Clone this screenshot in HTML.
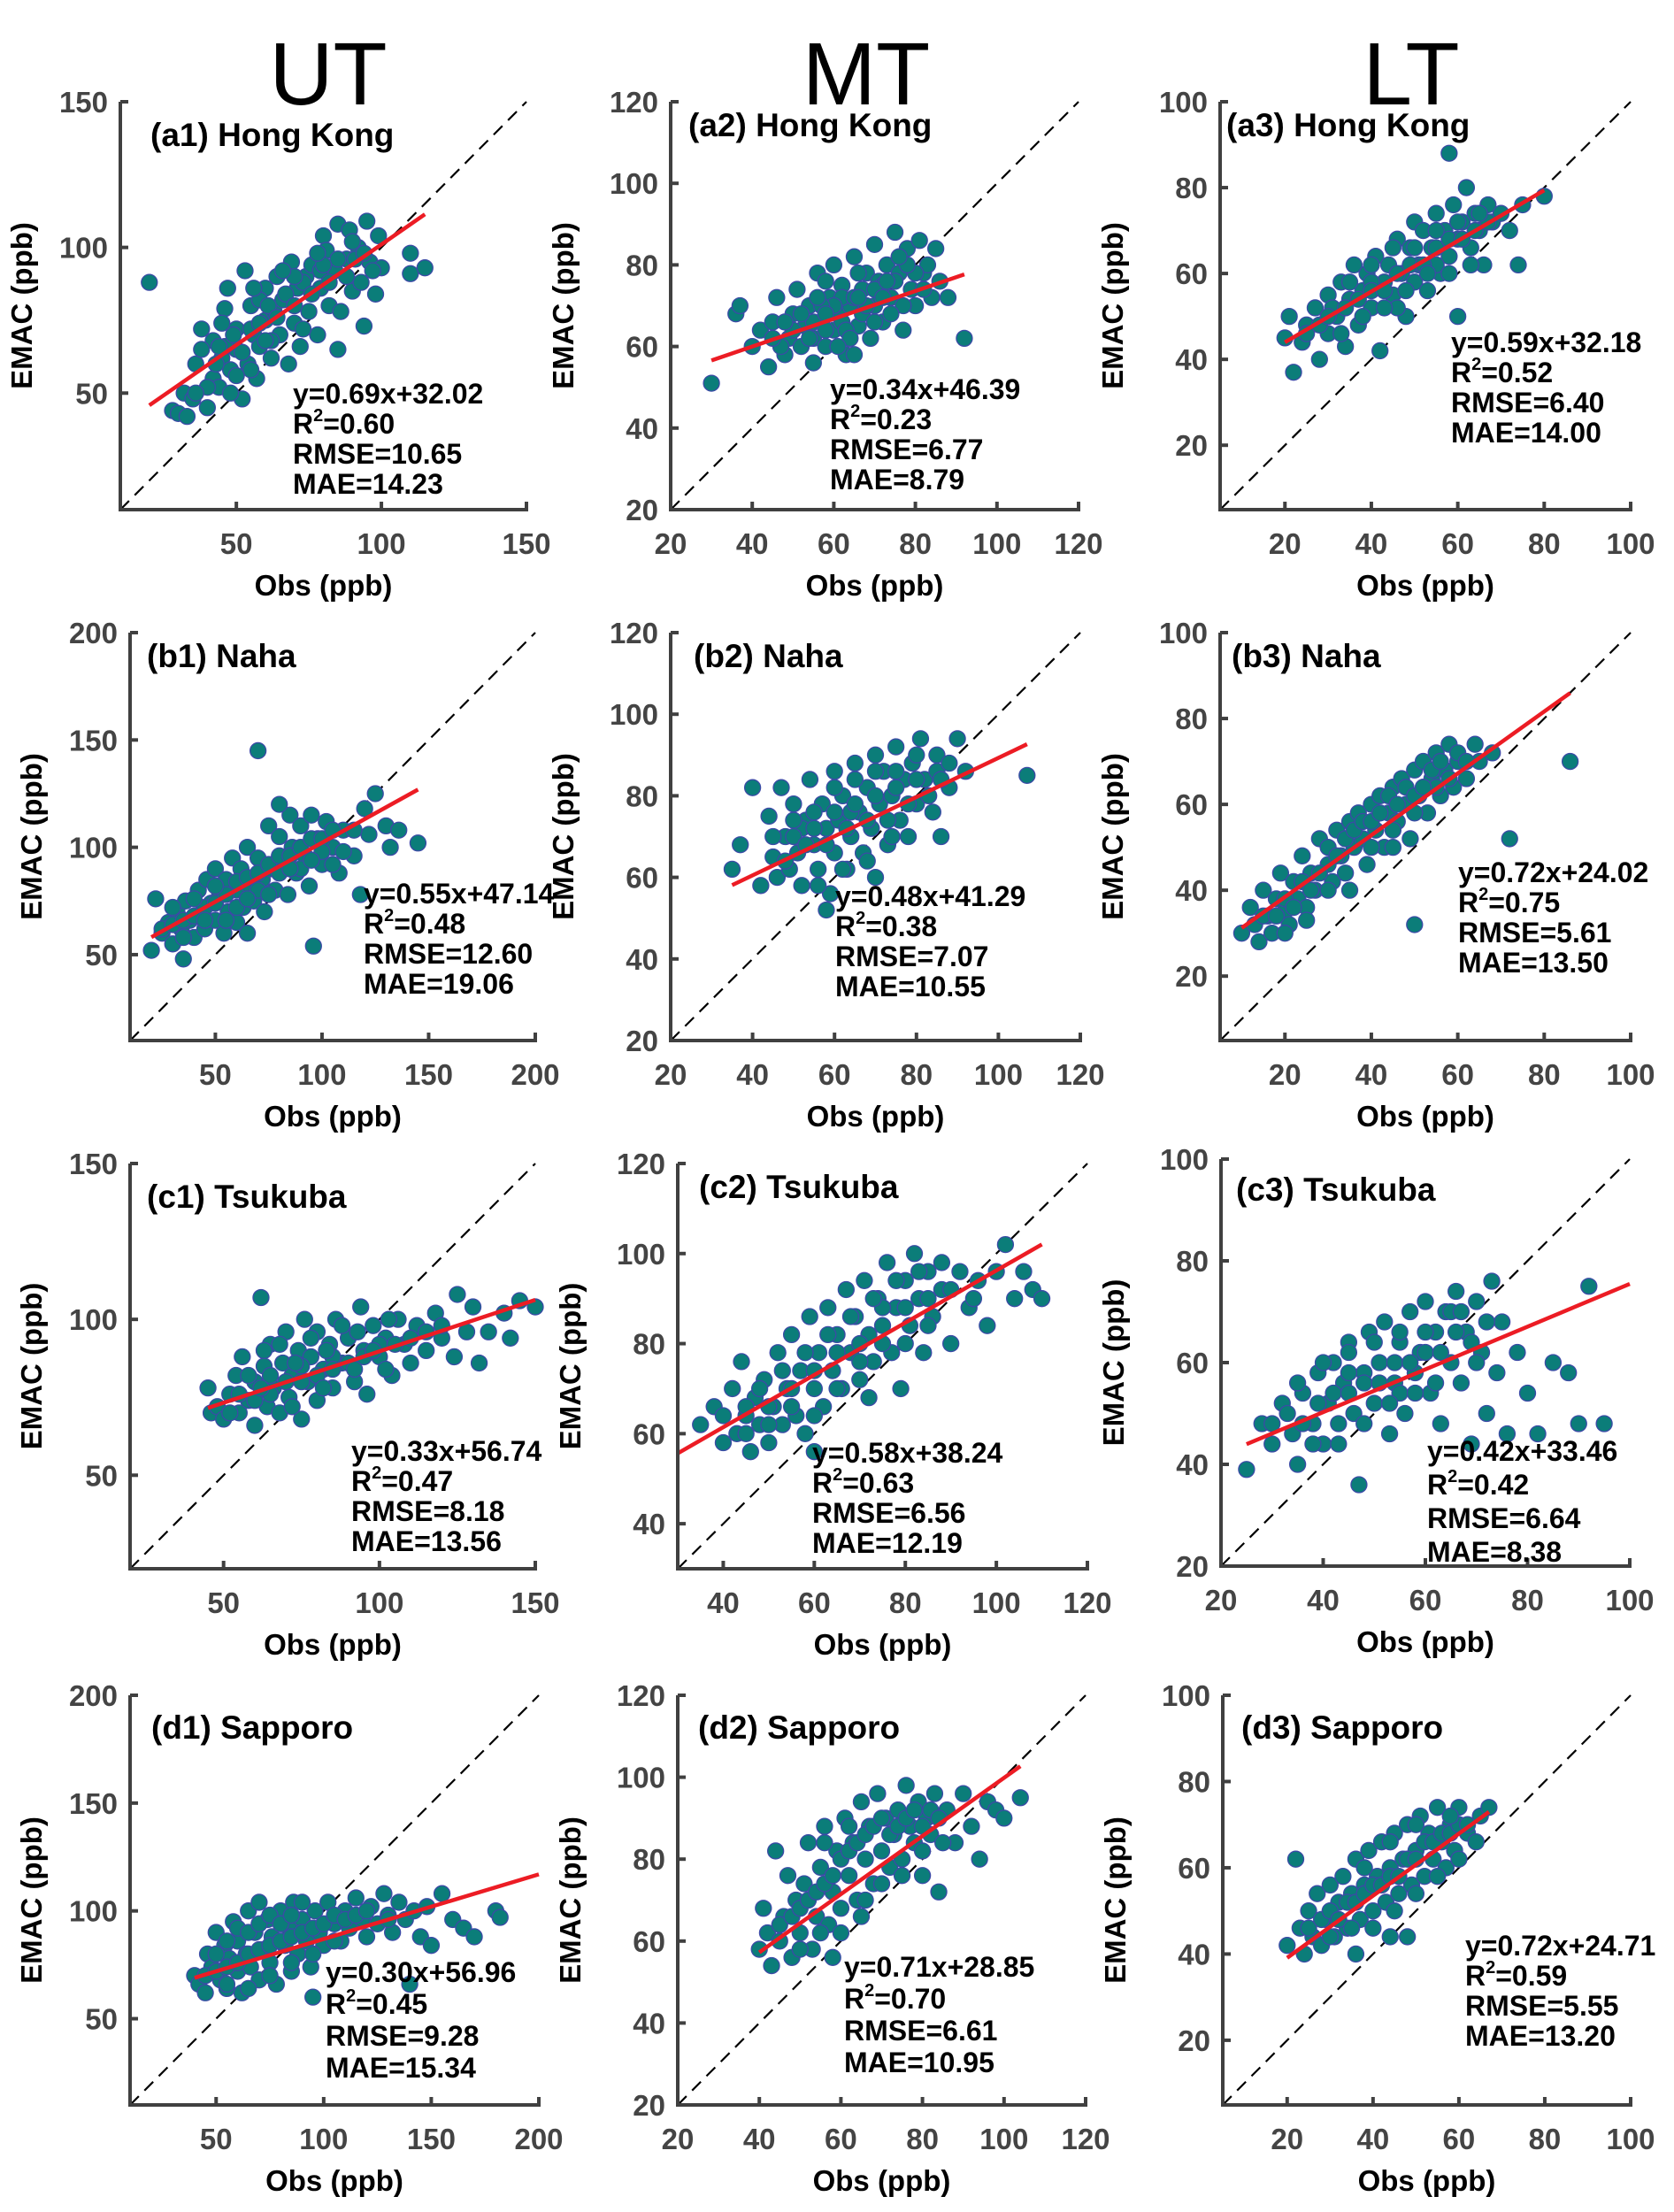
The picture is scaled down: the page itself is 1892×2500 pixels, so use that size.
<!DOCTYPE html>
<html><head><meta charset="utf-8"><style>
html,body{margin:0;padding:0;background:#fff}
svg{display:block}
text{font-family:"Liberation Sans",Arial,sans-serif}
</style></head><body>
<svg id="fig" width="1892" height="2500" viewBox="0 0 1892 2500" xmlns="http://www.w3.org/2000/svg">
<text x="371" y="118" font-size="100" text-anchor="middle">UT</text>
<text x="979" y="118" font-size="100" text-anchor="middle">MT</text>
<text x="1595" y="118" font-size="100" text-anchor="middle">LT</text>
</svg>
<script>
// ---- data ----
const ptsA1=[[20,88],[28,44],[30,43],[32,50],[33,42],[35,48],[36,60],[38,72],[40,45],[42,55],[42,68],[44,52],[45,62],[46,79],[47,86],[48,58],[50,65],[50,72],[52,48],[53,92],[54,60],[55,80],[56,70],[57,55],[58,66],[60,75],[60,86],[62,62],[63,78],[64,90],[65,70],[66,82],[68,60],[69,95],[70,74],[71,86],[72,66],[74,90],[75,78],[76,94],[78,70],[79,86],[80,104],[81,99],[82,80],[84,92],[85,65],[85,108],[86,78],[88,96],[89,106],[90,85],[92,100],[93,88],[94,73],[95,109],[96,95],[98,84],[99,104],[100,93],[110,91],[110,98],[115,93],[45,74],[38,65],[55,58],[48,50],[62,68],[73,72],[58,82],
[40,52],[43,60],[46,66],[49,70],[52,64],[55,72],[58,74],[61,80],[64,76],[67,84],[70,80],[73,88],[76,84],[79,92],[82,88],[85,96],[88,90],[91,96],[94,98],[97,92],[36,50],[50,56],[60,68],[70,90],[80,94],[90,102],[44,66],[56,86],[66,92],[78,98]];
const ptsA2=[[30,51],[36,68],[37,70],[40,60],[42,64],[44,55],[45,66],[46,72],[48,58],[49,62],[50,68],[51,74],[52,60],[53,65],[54,70],[55,62],[56,78],[57,66],[58,60],[59,72],[60,64],[60,80],[61,68],[62,75],[63,58],[64,70],[65,82],[66,65],[67,74],[68,78],[69,62],[70,85],[70,70],[71,76],[72,66],[73,80],[74,72],[75,88],[76,78],[77,64],[78,84],[79,74],[80,70],[81,86],[82,78],[83,80],[84,72],[85,84],[86,76],[88,72],[92,62],[65,58],[55,56],[47,60],[58,76],[62,72],[66,78],[72,75],
[45,62],[50,64],[55,66],[60,70],[65,72],[70,74],[75,76],[80,78],[48,66],[52,68],[57,70],[62,66],[67,68],[72,72],[77,70],[82,74],[54,62],[58,64],[63,64],[68,70],[73,76],[78,80],[58,68],[64,62],[70,66],[76,82],[56,72],[61,60],[66,72],[74,68]];
const ptsA3=[[20,45],[21,50],[22,37],[24,44],[25,48],[27,52],[28,40],[30,55],[30,46],[32,50],[33,58],[34,43],[35,54],[36,62],[37,48],[38,56],[39,60],[40,52],[41,64],[42,42],[43,58],[44,62],[45,55],[46,68],[47,60],[48,50],[49,66],[50,58],[50,72],[51,62],[52,70],[53,56],[54,66],[55,74],[56,60],[57,70],[58,88],[58,64],[59,76],[60,68],[60,50],[61,72],[62,80],[63,66],[64,74],[65,70],[66,62],[67,76],[68,72],[70,74],[72,70],[74,62],[75,76],[80,78],[46,52],[40,58],[55,62],
[25,46],[28,48],[31,52],[34,52],[37,54],[40,56],[43,56],[46,60],[49,62],[52,62],[55,66],[58,68],[61,68],[64,70],[67,72],[30,50],[35,58],[40,62],[45,66],[50,66],[55,70],[60,72],[65,74],[33,46],[38,50],[43,52],[48,56],[53,60],[58,60],[63,62]];
const ptsB1=[[20,52],[22,76],[25,60],[28,65],[30,55],[32,70],[34,62],[35,48],[36,75],[38,66],[40,58],[42,80],[44,70],[45,62],[46,85],[48,74],[50,66],[50,90],[52,78],[54,60],[55,85],[56,70],[58,95],[60,80],[60,65],[62,90],[63,72],[65,100],[66,82],[68,75],[70,145],[70,95],[72,85],[73,70],[75,110],[76,90],[78,80],[80,105],[82,92],[84,78],[85,115],[86,100],[88,88],[90,110],[92,96],[94,82],[95,115],[96,54],[98,104],[100,92],[102,112],[105,100],[108,88],[110,108],[115,96],[118,78],[120,118],[122,106],[125,125],[130,110],[132,100],[136,108],[145,102],[80,120],[65,60],
[25,62],[30,64],[35,66],[40,68],[45,72],[50,74],[55,78],[60,84],[65,86],[70,88],[75,92],[80,96],[85,96],[90,100],[95,104],[100,104],[105,108],[110,98],[30,72],[40,76],[50,82],[60,72],[70,80],[80,88],[90,90],[100,98],[35,58],[45,66],[55,66],[65,76],[75,78],[85,90],[95,94],[105,92],[115,108]];
const ptsB2=[[35,62],[37,68],[40,82],[42,58],[44,75],[45,65],[46,60],[47,82],[48,70],[49,62],[50,78],[51,66],[52,58],[53,74],[54,84],[55,68],[56,62],[57,78],[58,72],[59,56],[60,66],[60,86],[61,74],[62,80],[63,62],[64,70],[65,88],[66,76],[67,66],[68,82],[69,72],[70,90],[70,60],[71,78],[72,86],[73,68],[74,80],[75,92],[76,74],[77,84],[78,70],[79,88],[80,78],[81,94],[82,84],[84,76],[85,90],[86,70],[88,82],[90,94],[92,86],[107,85],[58,52],[52,72],[64,76],
[45,70],[50,70],[55,72],[60,76],[65,78],[70,80],[75,82],[80,84],[85,86],[48,64],[53,68],[58,68],[63,72],[68,74],[73,74],[78,78],[83,80],[88,88],[50,74],[55,76],[60,82],[65,84],[70,86],[75,86],[80,90],[56,58],[62,62],[68,64],[74,70],[86,84]];
const ptsB3=[[10,30],[12,36],[13,32],[14,28],[15,40],[16,34],[17,30],[18,38],[19,44],[20,35],[21,32],[22,42],[23,38],[24,48],[25,36],[26,44],[27,40],[28,52],[30,46],[31,42],[32,54],[33,48],[34,44],[35,56],[36,50],[37,58],[38,52],[39,46],[40,60],[41,54],[42,62],[43,50],[44,58],[45,64],[46,56],[47,66],[48,60],[49,52],[50,68],[50,32],[51,62],[52,70],[53,58],[54,66],[55,72],[56,62],[57,68],[58,74],[59,64],[60,70],[62,66],[64,74],[65,70],[68,72],[72,52],[86,70],[35,40],[45,50],[55,64],
[15,34],[18,34],[20,38],[22,36],[24,42],[26,40],[28,44],[30,50],[32,48],[34,52],[36,54],[38,56],[40,56],[42,58],[44,62],[46,60],[48,64],[50,62],[52,64],[54,68],[56,70],[58,66],[60,72],[62,70],[30,40],[40,50],[50,58],[20,30],[25,33],[45,54]];
const ptsC1=[[45,78],[46,70],[48,72],[50,68],[52,76],[54,82],[55,70],[56,88],[58,74],[60,80],[60,66],[62,107],[63,85],[64,72],[65,92],[66,78],[68,70],[69,86],[70,96],[71,75],[72,82],[74,90],[75,68],[76,100],[77,80],[78,88],[80,74],[80,96],[82,84],[84,92],[85,78],[86,100],[88,86],[90,94],[92,80],[94,104],[95,90],[96,76],[98,98],[100,88],[102,94],[104,82],[106,100],[108,92],[110,86],[112,98],[115,90],[118,102],[120,94],[124,88],[125,108],[128,96],[130,104],[132,86],[135,96],[140,102],[142,94],[145,106],[150,104],[65,82],[75,85],[85,88],
[55,76],[60,74],[65,76],[70,80],[75,80],[80,82],[85,84],[90,86],[95,88],[100,92],[105,92],[110,94],[115,96],[120,98],[58,82],[63,90],[68,92],[73,86],[78,94],[83,90],[88,98],[93,96],[98,90],[103,100],[52,70],[62,78],[72,72],[82,78],[92,84],[102,84]];
const ptsC2=[[35,62],[38,66],[40,58],[42,70],[43,60],[44,76],[45,64],[46,56],[47,68],[48,62],[49,72],[50,58],[51,66],[52,78],[53,62],[54,70],[55,82],[56,64],[57,74],[58,60],[59,86],[60,70],[61,78],[62,66],[63,88],[64,74],[65,82],[66,70],[67,92],[68,78],[69,86],[70,72],[71,94],[72,82],[73,76],[74,90],[75,84],[76,98],[77,78],[78,88],[79,70],[80,94],[81,84],[82,100],[83,90],[84,78],[85,96],[86,86],[88,92],[90,80],[92,96],[94,88],[96,94],[98,84],[100,96],[102,102],[104,90],[106,96],[108,92],[110,90],[60,56],[72,68],
[40,64],[45,66],[50,66],[55,70],[60,74],[65,78],[70,80],[75,88],[80,88],[85,90],[90,92],[45,60],[50,62],[55,66],[60,64],[65,70],[70,76],[75,80],[80,80],[85,84],[48,70],[53,74],[58,78],[63,82],[68,86],[73,90],[78,94],[83,96],[88,98],[95,90]];
const ptsC3=[[25,39],[28,48],[30,44],[32,52],[34,46],[35,40],[36,54],[38,48],[39,58],[40,44],[41,52],[42,60],[43,48],[44,56],[45,64],[46,50],[47,36],[48,58],[49,66],[50,52],[51,60],[52,68],[53,46],[54,56],[55,64],[56,50],[57,70],[58,58],[59,62],[60,72],[61,54],[62,66],[63,48],[64,70],[65,60],[66,74],[67,56],[68,66],[69,44],[70,72],[71,62],[72,50],[73,76],[74,58],[75,68],[76,46],[78,62],[80,54],[82,46],[85,60],[88,58],[90,48],[92,75],[95,48],[55,54],[45,58],
[30,48],[33,50],[36,48],[39,52],[42,54],[45,54],[48,56],[51,56],[54,60],[57,60],[60,62],[63,62],[66,66],[69,64],[72,68],[35,56],[40,60],[45,62],[50,64],[55,66],[60,66],[65,70],[70,60],[38,44],[43,44],[48,48],[53,52],[58,54],[62,56],[67,70]];
const ptsD1=[[40,70],[42,66],[45,62],[46,80],[48,74],[50,90],[52,68],[54,84],[55,64],[56,78],[58,95],[60,72],[60,86],[62,62],[64,80],[65,100],[66,74],[68,90],[70,68],[70,104],[72,82],[74,96],[75,76],[76,88],[78,66],[80,100],[82,84],[84,92],[85,72],[86,104],[88,80],[90,96],[92,86],[94,74],[96,100],[98,90],[100,84],[102,104],[105,94],[108,86],[110,100],[112,92],[115,106],[118,96],[120,88],[122,102],[125,94],[128,108],[130,98],[132,90],[135,104],[138,96],[140,66],[142,100],[145,88],[148,102],[150,84],[155,108],[160,96],[165,92],[170,88],[180,100],[182,97],[95,60],
[45,70],[50,72],[55,74],[60,76],[65,80],[70,82],[75,84],[80,86],[85,88],[90,90],[95,92],[100,94],[105,98],[110,96],[115,98],[50,80],[55,86],[60,92],[65,90],[70,94],[75,98],[80,94],[85,98],[90,104],[55,66],[65,64],[75,70],[85,76],[95,80],[105,86],[120,100],[130,96]];
const ptsD2=[[40,58],[41,68],[42,62],[43,54],[44,82],[45,60],[46,66],[47,76],[48,56],[49,70],[50,62],[51,74],[52,84],[53,58],[54,66],[55,78],[56,88],[57,64],[58,72],[59,82],[60,68],[61,90],[62,76],[63,84],[64,70],[65,94],[66,80],[67,88],[68,74],[69,96],[70,82],[71,90],[72,78],[73,86],[74,92],[75,80],[76,98],[77,88],[78,84],[79,94],[80,76],[81,90],[82,86],[83,96],[84,72],[86,92],[88,84],[90,96],[92,88],[94,80],[96,94],[98,92],[100,90],[104,95],[58,56],[66,70],
[45,64],[48,66],[50,68],[52,70],[54,72],[56,74],[58,76],[60,80],[62,82],[64,84],[66,86],[68,88],[70,90],[72,86],[74,88],[76,90],[78,92],[80,88],[82,92],[84,90],[50,58],[55,62],[60,62],[65,66],[70,74],[75,76],[80,82],[85,84],[56,84],[62,88]];
const ptsD3=[[20,42],[22,62],[23,46],[24,40],[25,50],[26,44],[27,54],[28,42],[29,48],[30,56],[31,44],[32,52],[33,58],[34,46],[35,54],[36,62],[37,48],[38,56],[39,64],[40,50],[41,58],[42,66],[43,52],[44,60],[45,68],[46,54],[47,62],[48,70],[49,56],[50,64],[51,72],[52,58],[53,68],[54,62],[55,74],[56,66],[57,60],[58,70],[59,64],[60,74],[62,68],[64,66],[65,72],[67,74],[44,44],[36,40],[48,44],
[25,46],[28,48],[30,50],[32,48],[34,52],[36,52],[38,54],[40,56],[42,56],[44,58],[46,58],[48,62],[50,62],[52,66],[54,66],[56,68],[58,68],[60,70],[62,70],[30,44],[35,46],[40,46],[45,50],[50,54],[55,58],[60,62],[38,60],[44,66],[50,70],[58,72]];

const fitSlope=[0.69,0.34,0.59,0.55,0.48,0.72,0.33,0.58,0.42,0.30,0.71,0.72];
const fitIntercept=[32.02,46.39,32.18,47.14,41.29,24.02,56.74,38.24,33.46,56.96,28.85,24.71];
const fitRange=[[20,115],[30,92],[20,80],[20,145],[35,107],[10,86],[45,150],[30,110],[25,100],[40,200],[40,104],[20,67]];
const statR2=["0.60","0.23","0.52","0.48","0.38","0.75","0.47","0.63","0.42","0.45","0.70","0.59"];
const statRMSE=["10.65","6.77","6.40","12.60","7.07","5.61","8.18","6.56","6.64","9.28","6.61","5.55"];
const statMAE=["14.23","8.79","14.00","19.06","10.55","13.50","13.56","12.19","8.38","15.34","10.95","13.20"];
const panelTitles=["(a1) Hong Kong","(a2) Hong Kong","(a3) Hong Kong","(b1) Naha","(b2) Naha","(b3) Naha","(c1) Tsukuba","(c2) Tsukuba","(c3) Tsukuba","(d1) Sapporo","(d2) Sapporo","(d3) Sapporo"];
const axisRanges=[[10,150],[20,120],[5,100],[10,200],[20,120],[5,100],[20,150],[30,120],[20,100],[10,200],[20,120],[5,100]];
const tickSets=[[50,100,150],[20,40,60,80,100,120],[20,40,60,80,100],[50,100,150,200],[20,40,60,80,100,120],[20,40,60,80,100],[50,100,150],[40,60,80,100,120],[20,40,60,80,100],[50,100,150,200],[20,40,60,80,100,120],[20,40,60,80,100]];
const allPts=[ptsA1,ptsA2,ptsA3,ptsB1,ptsB2,ptsB3,ptsC1,ptsC2,ptsC3,ptsD1,ptsD2,ptsD3];

// ---- layout ----
const boxes=[[136,115,595,576],[758,115,1219,576],[1379,115,1843,576],
[147,715,605,1176],[758,715,1221,1176],[1379,715,1843,1176],
[147,1315,605,1773],[766,1315,1229,1773],[1380,1310,1842,1770],
[147,1916,609,2379],[766,1916,1227,2379],[1382,1916,1843,2379]];
const titlePos=[[170,165],[778,154],[1386,154],[166,754],[784,754],[1392,754],[166,1365],[790,1354],[1397,1357],[171,1965],[789,1965],[1403,1965]];
const statPos=[[331,456,34],[938,451,34],[1640,398,34],[411,1021,34],[944,1024,34],[1648,997,34],[397,1651,34],[918,1653,34],[1613,1651,38],[368,2240,36],[954,2234,36],[1656,2210,34]];

const NS="http://www.w3.org/2000/svg";
const svg=document.getElementById('fig');
function mk(tag,attrs,parent){const e=document.createElementNS(NS,tag);for(const k in attrs)e.setAttribute(k,attrs[k]);(parent||svg).appendChild(e);return e;}

for(let i=0;i<12;i++){
  const [L,T,R,B]=boxes[i];const [lo,hi]=axisRanges[i];
  const sx=v=>L+(v-lo)/(hi-lo)*(R-L);
  const sy=v=>B-(v-lo)/(hi-lo)*(B-T);
  const g=mk('g',{});
  
  
  const d=mk('line',{x1:sx(lo),y1:sy(lo),x2:sx(hi),y2:sy(hi),stroke:'#000','stroke-width':2.2,'stroke-dasharray':'14 9'},g);
  
  
  const pg=mk('g',{},g);
  
  
  for(const p of allPts[i]){
    const c=mk('circle',{cx:sx(p[0]),cy:sy(p[1]),r:9,fill:'#0b7d79',stroke:'#3b4aa6','stroke-width':1.3},pg);
    
    
  }
  const [f0,f1]=fitRange[i];
  const fl=mk('line',{x1:sx(f0),y1:sy(fitSlope[i]*f0+fitIntercept[i]),x2:sx(f1),y2:sy(fitSlope[i]*f1+fitIntercept[i]),stroke:'#ec1c24','stroke-width':4.5},g);
  
  
  const ax=mk('path',{d:`M${L},${T} L${L},${B} L${R},${B} L${R},${B-9}`,fill:'none',stroke:'#404040','stroke-width':4},g);
  
  
  for(const t of tickSets[i]){
    const x=sx(t),y=sy(t);
    mk('line',{x1:x,y1:B,x2:x,y2:B-9,stroke:'#404040','stroke-width':4},g);
    mk('line',{x1:L,y1:y,x2:L+9,y2:y,stroke:'#404040','stroke-width':4},g);
    const xt=mk('text',{x:x,y:B+50,'font-size':33,'font-weight':'bold',fill:'#444','text-anchor':'middle'},g);
    xt.textContent=t;
    
    
    const yt=mk('text',{x:L-14,y:y+12,'font-size':33,'font-weight':'bold',fill:'#444','text-anchor':'end'},g);
    yt.textContent=t;
    
    
  }
  const xl=mk('text',{x:(L+R)/2,y:B+97,'font-size':33,'font-weight':'bold','text-anchor':'middle'},g);
  xl.textContent='Obs (ppb)';
  
  
  const yx=L-(i%3==0?100:110), yy=(T+B)/2;
  const yl=mk('text',{x:yx,y:yy,'font-size':33,'font-weight':'bold','text-anchor':'middle',transform:`rotate(-90 ${yx} ${yy})`},g);
  yl.textContent='EMAC (ppb)';
  
  
  const tt=mk('text',{x:titlePos[i][0],y:titlePos[i][1],'font-size':37,'font-weight':'bold'},g);
  tt.textContent=panelTitles[i];
  
  
  const [stx,sty,sp]=statPos[i];
  const st=mk('text',{x:stx,y:sty,'font-size':32,'font-weight':'bold'},g);
  
  
  const lines=['y='+fitSlope[i].toFixed(2)+'x+'+fitIntercept[i].toFixed(2),null,'RMSE='+statRMSE[i],'MAE='+statMAE[i]];
  lines.forEach((s,k)=>{
    if(k==1){
      const a=mk('tspan',{x:stx,y:sty+sp},st);a.textContent='R';
      const b=mk('tspan',{'font-size':20,dy:-14},st);b.textContent='2';
      const c=mk('tspan',{dy:14},st);c.textContent='='+statR2[i];
    } else {
      const a=mk('tspan',{x:stx,y:sty+sp*k},st);a.textContent=s;
    }
  });
}
</script>
</body></html>
